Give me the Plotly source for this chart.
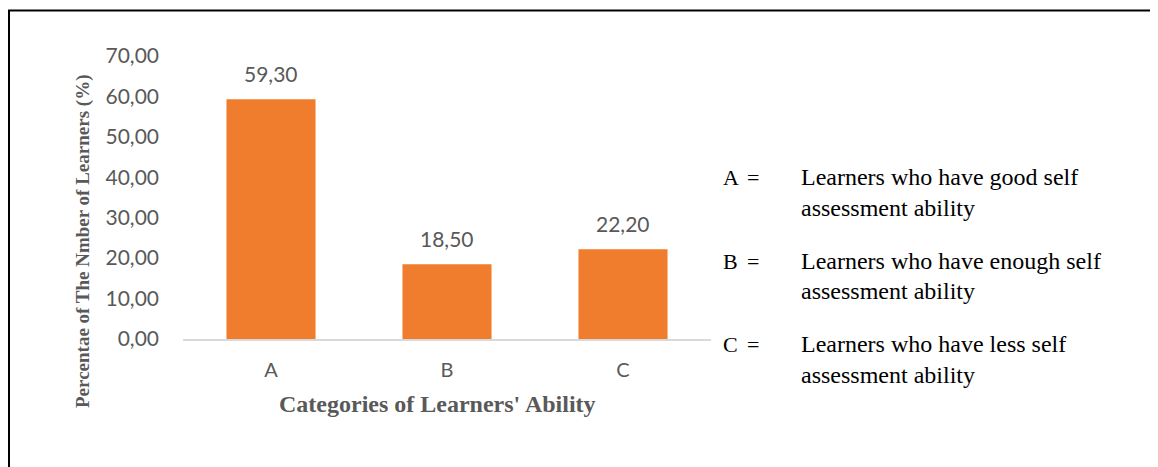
import plotly.graph_objects as go

# data
categories = ["A", "B", "C"]
percentages = [59.30, 18.50, 22.20]
y_ticks = [0, 10, 20, 30, 40, 50, 60, 70]

legend_keys = ["A", "B", "C"]
legend_lines = [
    ["Learners who have good self", "assessment ability"],
    ["Learners who have enough self", "assessment ability"],
    ["Learners who have less self", "assessment ability"],
]

# the page body has an 8px margin, so the figure starts at (8, 8)
OFF = 8
W, H = 1158 - OFF, 467 - OFF
PL, PT = 183, 56          # plot area top-left on the page
pw, ph = 528, 283
L, T = PL - OFF, PT - OFF
R, B = W - L - pw, H - T - ph


def px_x(x):
    # page pixel column -> paper x
    return (x - PL) / pw


def px_y(y):
    # page pixel row -> paper y
    return (PT + ph - y) / ph


grey = "#595959"
fig = go.Figure()

fig.add_trace(go.Bar(
    x=categories,
    y=percentages,
    width=0.506,
    marker=dict(color="#F07C2D", line=dict(width=0)),
    hoverinfo="x+y",
))

annotations = []

# value labels above the bars
for c, v in zip(categories, percentages):
    annotations.append(dict(
        x=c, y=v, xref="x", yref="y",
        text=f"{v:.2f}".replace(".", ","),
        showarrow=False, yanchor="middle", yshift=26,
        font=dict(family="Lato", size=21, color=grey),
    ))

# axis titles
annotations.append(dict(
    x=px_x(83), y=px_y(242), xref="paper", yref="paper",
    text="Percentae of The Nmber of Learners (%)", textangle=-90,
    showarrow=False, xanchor="center", yanchor="middle",
    font=dict(family="Liberation Serif", size=19, color=grey, weight="bold"),
))
annotations.append(dict(
    x=px_x(437), y=px_y(404), xref="paper", yref="paper",
    text="Categories of Learners' Ability",
    showarrow=False, xanchor="center", yanchor="middle",
    font=dict(family="Liberation Serif", size=24, color=grey, weight="bold"),
))

# key on the right
lfont = dict(family="Liberation Serif", size=24, color="black")
kfont = dict(family="Liberation Serif", size=22, color="black")
for i, (k, lines) in enumerate(zip(legend_keys, legend_lines)):
    base = 185 + i * 83.5
    for j, line in enumerate(lines):
        yc = base + j * 30.5 - 8
        annotations.append(dict(
            x=px_x(799), y=px_y(yc), xref="paper", yref="paper",
            text=line, showarrow=False, xanchor="left", yanchor="middle",
            font=lfont,
        ))
    yc = base - 7.5
    annotations.append(dict(
        x=px_x(721), y=px_y(yc), xref="paper", yref="paper",
        text=k, showarrow=False, xanchor="left", yanchor="middle", font=kfont,
    ))
    annotations.append(dict(
        x=px_x(745), y=px_y(yc), xref="paper", yref="paper",
        text="=", showarrow=False, xanchor="left", yanchor="middle", font=kfont,
    ))

# outer frame
shapes = [dict(
    type="rect", xref="paper", yref="paper",
    x0=px_x(9), x1=px_x(1175), y0=px_y(490), y1=px_y(10.5),
    line=dict(color="black", width=2), fillcolor="rgba(0,0,0,0)", layer="below",
)]

fig.update_layout(
    width=W, height=H,
    margin=dict(l=L, r=R, t=T, b=B),
    plot_bgcolor="white", paper_bgcolor="white",
    separators=",.",
    showlegend=False,
    bargap=0.494,
    annotations=annotations,
    shapes=shapes,
    xaxis=dict(
        showgrid=False, zeroline=False,
        showline=True, linecolor="#D9D9D9", linewidth=2,
        ticks="", ticklabelstandoff=12,
        tickfont=dict(family="Lato", size=20, color=grey),
    ),
    yaxis=dict(
        range=[0, 70], tickvals=y_ticks, tickformat=".2f",
        showgrid=False, zeroline=False, showline=False,
        ticks="", ticklabelstandoff=23,
        tickfont=dict(family="Lato", size=21, color=grey),
    ),
)

fig.write_html("out.html")
